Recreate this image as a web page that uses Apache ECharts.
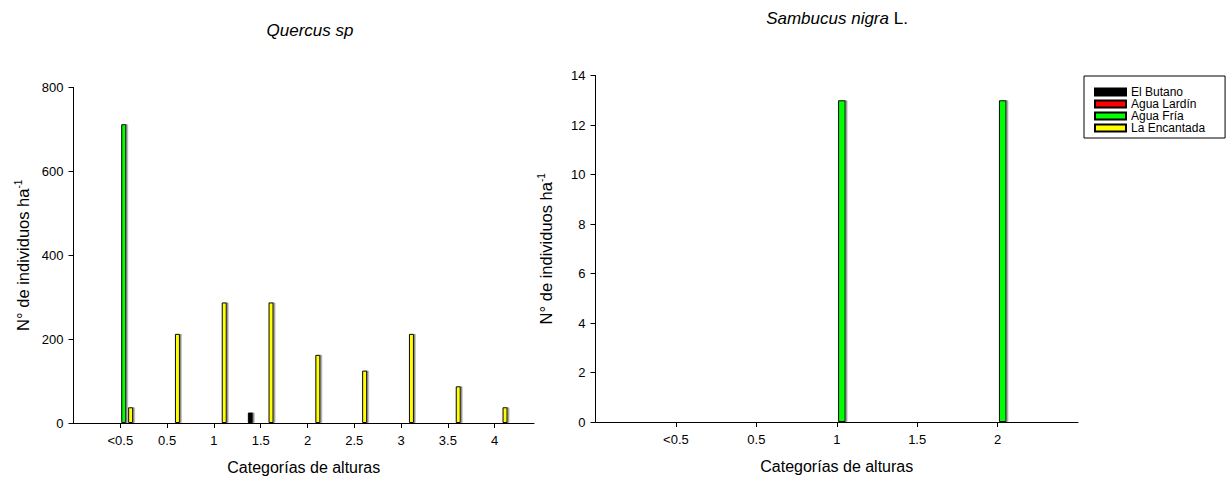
<!DOCTYPE html>
<html>
<head>
<meta charset="utf-8">
<script src="https://cdn.jsdelivr.net/npm/echarts@6/dist/echarts.min.js"></script>
<style>
html,body{margin:0;padding:0;background:#fff;}
#chart{width:1228px;height:484px;}
</style>
</head>
<body>
<div id="chart"></div>
<script>
// ---- data ----
const seriesNames = ['El Butano', 'Agua Lardín', 'Agua Fría', 'La Encantada'];
const seriesColors = ['#000000', '#ff0000', '#00ff00', '#ffff00'];

const quercusCategories = ['<0.5', '0.5', '1', '1.5', '2', '2.5', '3', '3.5', '4'];
const quercusElButano    = [0, 0, 0, 25, 0, 0, 0, 0, 0];
const quercusAguaLardin  = [0, 0, 0, 0, 0, 0, 0, 0, 0];
const quercusAguaFria    = [712.5, 0, 0, 0, 0, 0, 0, 0, 0];
const quercusLaEncantada = [37.5, 212.5, 287.5, 287.5, 162.5, 125, 212.5, 87.5, 37.5];

const sambucusCategories = ['<0.5', '0.5', '1', '1.5', '2'];
const sambucusElButano    = [0, 0, 0, 0, 0];
const sambucusAguaLardin  = [0, 0, 0, 0, 0];
const sambucusAguaFria    = [0, 0, 13, 0, 13];
const sambucusLaEncantada = [0, 0, 0, 0, 0];

const quercusTicks = [0, 200, 400, 600, 800];
const sambucusTicks = [0, 2, 4, 6, 8, 10, 12, 14];

// ---- build ----
const FONT = '"Liberation Sans", Arial, sans-serif';
const chart = echarts.init(document.getElementById('chart'), null, {renderer: 'svg'});

function toPoints(arr) {
  const out = [];
  arr.forEach((v, i) => { if (v > 0) out.push([i, v]); });
  return out;
}
const quercusData = [quercusElButano, quercusAguaLardin, quercusAguaFria, quercusLaEncantada];
const sambucusData = [sambucusElButano, sambucusAguaLardin, sambucusAguaFria, sambucusLaEncantada];

const series = [];
seriesNames.forEach((name, k) => {
  const style = {
    color: seriesColors[k], borderColor: '#000', borderWidth: 1,
    shadowColor: '#8a8a8a', shadowOffsetX: 1.5, shadowOffsetY: 0, shadowBlur: 0
  };
  series.push({
    type: 'bar', name: name, xAxisIndex: 0, yAxisIndex: 0,
    data: toPoints(quercusData[k]), barWidth: 5, barGap: '38%',
    itemStyle: style, silent: true, animation: false
  });
  series.push({
    type: 'bar', name: name, xAxisIndex: 1, yAxisIndex: 1,
    data: toPoints(sambucusData[k]), barWidth: 7.5, barGap: '36%',
    itemStyle: style, silent: true, animation: false
  });
});

const axisLine = {show: true, onZero: false, lineStyle: {color: '#000', width: 1}};
const yName = 'N° de individuos ha{sup|-1}';
const yNameStyle = {
  fontFamily: FONT, fontSize: 16.5, color: '#000', lineHeight: 19,
  rich: {sup: {fontFamily: FONT, fontSize: 10, color: '#000', verticalAlign: 'top', lineHeight: 19}}
};

function xAxisFor(gridIndex, cats, max) {
  const idx = cats.map((c, i) => i);
  return {
    type: 'value', gridIndex: gridIndex, min: -1, max: max,
    axisLine: axisLine,
    axisTick: {show: true, length: 5, customValues: idx, lineStyle: {color: '#000'}},
    axisLabel: {show: true, customValues: idx, margin: 11, fontFamily: FONT, fontSize: 13, color: '#000',
      formatter: v => cats[Math.round(v)] || ''},
    splitLine: {show: false},
    name: 'Categorías de alturas', nameLocation: 'middle', nameGap: 36,
    nameTextStyle: {fontFamily: FONT, fontSize: 16, color: '#000'}
  };
}
function yAxisFor(gridIndex, ticks, gap) {
  return {
    type: 'value', gridIndex: gridIndex, min: ticks[0], max: ticks[ticks.length - 1],
    interval: ticks[1] - ticks[0],
    axisLine: axisLine,
    axisTick: {show: true, length: 5, lineStyle: {color: '#000'}},
    axisLabel: {show: true, margin: 10, fontFamily: FONT, fontSize: 13, color: '#000'},
    splitLine: {show: false},
    name: yName, nameLocation: 'middle', nameGap: gap, nameTextStyle: yNameStyle
  };
}

chart.setOption({
  animation: false,
  backgroundColor: '#fff',
  grid: [
    {left: 73.5, top: 87.5, right: 1228 - 534, bottom: 484 - 423, outerBoundsMode: 'none', containLabel: false},
    {left: 595.5, top: 75.5, right: 1228 - 1078, bottom: 484 - 422, outerBoundsMode: 'none', containLabel: false}
  ],
  xAxis: [xAxisFor(0, quercusCategories, 8.84), xAxisFor(1, sambucusCategories, 5)],
  yAxis: [yAxisFor(0, quercusTicks, 41), yAxisFor(1, sambucusTicks, 40)],
  legend: {
    data: seriesNames, orient: 'vertical', left: 1084, top: 76,
    padding: [10, 20, 4, 10], itemWidth: 31, itemHeight: 7, itemGap: 0,
    icon: 'rect', selectedMode: false,
    borderColor: '#000', borderWidth: 1, borderRadius: 0,
    textStyle: {fontFamily: FONT, fontSize: 12, color: '#000', lineHeight: 11}
  },
  graphic: [
    {type: 'text', x: 310, y: 30, silent: true,
      style: {text: 'Quercus sp', fontFamily: FONT, fontSize: 17, fontStyle: 'italic', fill: '#000',
        align: 'center', verticalAlign: 'middle'}},
    {type: 'text', x: 837, y: 18, silent: true,
      style: {text: '{i|Sambucus nigra} L.', fontFamily: FONT, fontSize: 17, fill: '#000',
        align: 'center', verticalAlign: 'middle',
        rich: {i: {fontFamily: FONT, fontSize: 17, fontStyle: 'italic', fill: '#000'}}}}
  ],
  series: series
});
</script>
</body>
</html>
